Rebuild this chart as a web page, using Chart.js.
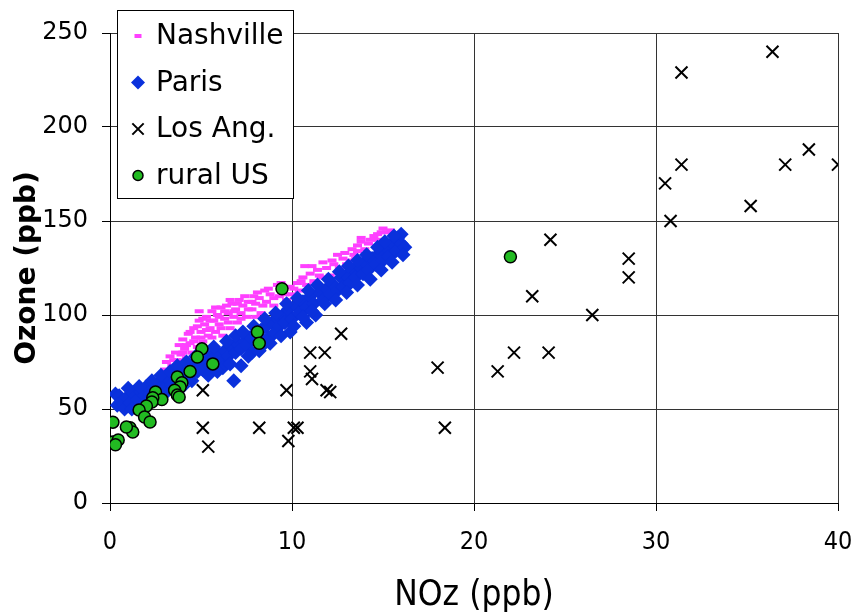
<!DOCTYPE html>
<html>
<head>
<meta charset="utf-8">
<script src="https://cdn.jsdelivr.net/npm/chart.js"></script>
<style>
  html, body { margin: 0; padding: 0; background: #fff; }
  canvas { display: block; }
</style>
</head>
<body>
<canvas id="ozoneChart" width="857" height="613"></canvas>
<script>
// NOz (ppb), ozone (ppb) pairs for each site
const nashville = [
  [3.0,71],[3.1,75],[3.3,78],[3.4,73],[3.6,80],[3.7,76],[3.8,84],[3.9,79],[4.0,87],[4.1,82],
  [4.2,77],[4.3,90],[4.4,85],[4.5,80],[4.6,93],[4.7,88],[4.8,83],[4.9,97],[4.9,102],[5.0,91],
  [5.1,86],[5.2,95],[5.3,99],[5.4,89],[5.5,93],[5.6,102],[5.7,97],[5.8,91],[5.9,100],[6.0,95],
  [6.1,104],[6.2,89],[6.3,98],[6.4,105],[6.5,101],[6.6,93],[6.7,106],[6.8,99],[6.9,103],[7.0,96],
  [7.1,108],[7.2,101],[7.3,105],[7.5,99],[7.6,107],[7.8,103],[7.9,110],[8.0,106],[8.2,109],[8.3,101],
  [8.5,113],[8.6,107],[8.8,111],[9.0,105],[9.2,116],[9.3,110],[9.5,113],[9.7,108],[9.9,115],[10.0,111],
  [10.3,117],[10.4,113],[10.6,120],[10.7,126],[10.8,116],[11.0,122],[11.2,118],[11.4,124],[11.6,120],[11.7,128],
  [11.9,125],[12.1,121],[12.3,127],[12.5,132],[12.6,125],[12.8,130],[13.0,127],[13.2,129],[13.4,132],[13.5,130],
  [13.6,137],[13.6,134],[13.8,139],[13.8,141],[14.0,135],[14.2,138],[14.5,142],[14.7,140],[14.7,143],[15.0,146],
  [15.2,144],[15.4,145],
  [3.5,76],[3.8,74],[4.0,80],[4.2,84],[4.4,91],[4.6,86],[4.8,94],[5.0,88],[5.1,98],[5.3,92],
  [5.5,97],[5.6,88],[5.8,104],[6.0,99],[6.1,93],[6.3,102],[6.5,96],[6.6,108],[6.8,102],[7.0,106],
  [7.2,98],[7.4,110],[7.6,103],[7.8,107],[8.0,99],[8.1,112],[8.4,105],[8.7,114],[9.0,109],[9.4,117],
  [9.6,111],[10.1,114],[10.5,118],[11.1,126],[11.5,121],[12.2,129],[12.9,133],[13.3,135],[14.3,140],[14.9,144]
];
const paris = [
  [0.3,58],[0.4,52],[0.5,57],[0.6,54],[0.8,50],[0.9,56],[1.1,53],[1.3,58],[1.5,55],[1.7,59],
  [1.9,57],[2.0,62],[2.2,58],[2.4,61],[2.6,63],[2.7,59],[2.9,64],[3.1,62],[3.2,66],[3.4,63],
  [3.6,67],[3.8,65],[3.9,70],[4.1,67],[4.3,71],[4.4,68],[4.6,72],[4.8,70],[5.0,74],[5.1,71],
  [5.3,76],[5.5,73],[5.6,78],[5.8,75],[6.0,79],[6.1,76],[6.2,72],[6.3,81],[6.5,78],[6.7,83],
  [6.8,65],[6.9,80],[7.0,85],[7.2,73],[7.2,82],[7.4,86],[7.5,84],[7.7,88],[7.8,80],[8.0,90],
  [8.1,86],[8.3,92],[8.4,84],[8.6,94],[8.7,88],[8.9,96],[9.0,90],[9.2,98],[9.3,94],[9.5,100],
  [9.6,96],[9.8,103],[9.9,91],[10.0,98],[10.2,105],[10.4,101],[10.6,107],[10.8,96],[10.8,104],[11.0,110],
  [11.2,106],[11.3,100],[11.5,112],[11.7,108],[11.9,114],[12.1,111],[12.3,116],[12.5,113],[12.7,120],[12.8,115],
  [13.0,121],[13.2,117],[13.4,124],[13.5,120],[13.7,126],[13.9,122],[14.0,128],[14.2,124],[14.4,130],[14.6,127],
  [14.8,133],[15.0,129],[15.2,136],[15.3,131],[15.5,138],[15.7,134],[15.8,141],[16.0,138],[16.0,143],[16.2,136],
  [1.0,61],[1.6,62],[2.3,65],[2.8,68],[3.3,70],[3.7,73],[4.2,75],[4.7,78],[5.2,80],[5.7,83],
  [6.4,86],[6.9,89],[7.3,91],[7.9,94],[8.5,98],[9.1,101],[9.7,106],[10.3,109],[10.9,113],[11.4,116],
  [12.0,119],[12.6,123],[13.1,126],[13.6,129],[14.1,132],[14.7,136],[15.1,139],[15.6,142],
  [1.2,50],[1.8,52],[2.5,55],[3.0,58],[3.5,60],[4.0,62],[4.5,65],[5.4,68],[5.9,70],[6.6,74],
  [7.6,78],[8.2,81],[8.8,85],[9.4,89],[10.1,94],[10.6,99],[11.1,102],[11.8,106],[12.4,108],[13.0,112],
  [13.6,116],[14.3,119],[14.9,124],[15.5,128],[16.1,132]
];
const losAngeles = [
  [5.1,60],[5.1,40],[5.4,30],[8.2,40],[9.7,60],[10.1,40],[10.3,40],[9.8,33],[11.0,70],[11.1,66],
  [11.0,80],[11.8,80],[11.9,60],[12.1,59],[12.7,90],[18.0,72],[18.4,40],[21.3,70],[22.2,80],[24.1,80],
  [23.2,110],[24.2,140],[26.5,100],[28.5,130],[28.5,120],[30.5,170],[30.8,150],[31.4,180],[31.4,229],[35.2,158],
  [36.4,240],[37.1,180],[38.4,188],[40.0,180]
];
const ruralUS = [
  [22.0,131],[9.45,114],[8.1,91],[8.2,85],[5.05,82],[4.8,77.7],[5.65,74],[4.4,70],[3.7,67],[3.95,64],
  [3.85,61.7],[3.55,60],[3.7,57.4],[3.8,56.4],[2.5,59],[2.85,55],[2.35,56],[2.3,53.7],[2.0,51.6],[1.6,49.5],
  [1.9,45.7],[2.2,43.1],[0.16,43],[1.1,40],[1.25,37.8],[0.9,40.4],[0.16,32.4],[0.45,33.5],[0.3,31]
];
const xTickValues = [0, 10, 20, 30, 40];
const yTickValues = [0, 50, 100, 150, 200, 250];

function toPoints(list) {
  return list.map(p => ({ x: p[0], y: p[1] }));
}

// legend drawn inside the plot, top-left, white box with black frame
const legendBox = {
  id: 'legendBox',
  afterDraw(chart) {
    const ctx = chart.ctx;
    const rows = [
      { ds: chart.data.datasets[0], radius: 3.5, borderWidth: 4 },
      { ds: chart.data.datasets[1], radius: 7, borderWidth: 0 },
      { ds: chart.data.datasets[2], radius: 8, borderWidth: 2 },
      { ds: chart.data.datasets[3], radius: 5, borderWidth: 1.5 }
    ];
    ctx.save();
    ctx.fillStyle = '#fff';
    ctx.fillRect(117, 10, 176, 188);
    ctx.strokeStyle = '#000';
    ctx.lineWidth = 1;
    ctx.strokeRect(117.5, 10.5, 176, 188);
    ctx.font = '28px "DejaVu Sans"';
    ctx.textBaseline = 'middle';
    rows.forEach((r, i) => {
      const y = 36 + i * 46.5;
      ctx.fillStyle = r.ds.backgroundColor;
      ctx.strokeStyle = r.ds.borderColor;
      ctx.lineWidth = r.borderWidth;
      Chart.helpers.drawPoint(ctx, {
        pointStyle: r.ds.pointStyle, radius: r.radius, borderWidth: r.borderWidth, rotation: 0
      }, 138, y);
      ctx.fillStyle = '#000';
      ctx.fillText(r.ds.label, 156, y + 1);
    });
    ctx.restore();
  }
};

const ctx = document.getElementById('ozoneChart').getContext('2d');
const ozoneChart = new Chart(ctx, {
  type: 'scatter',
  data: {
    datasets: [
      {
        label: 'Nashville',
        data: toPoints(nashville),
        pointStyle: 'line',
        pointRadius: 4.5,
        borderWidth: 4,
        borderColor: '#ff40ff',
        backgroundColor: '#ff40ff',
        order: 4
      },
      {
        label: 'Paris',
        data: toPoints(paris),
        pointStyle: 'rectRot',
        pointRadius: 7.5,
        borderWidth: 0,
        borderColor: '#0a31dc',
        backgroundColor: '#0a31dc',
        order: 3
      },
      {
        label: 'Los Ang.',
        data: toPoints(losAngeles),
        pointStyle: 'crossRot',
        pointRadius: 8.5,
        borderWidth: 2,
        borderColor: '#000',
        backgroundColor: '#000',
        order: 2
      },
      {
        label: 'rural US',
        data: toPoints(ruralUS),
        pointStyle: 'circle',
        pointRadius: 6,
        borderWidth: 1.5,
        borderColor: '#000',
        backgroundColor: '#22bb22',
        order: 1
      }
    ]
  },
  options: {
    responsive: false,
    animation: false,
    devicePixelRatio: 1,
    layout: { padding: { left: 0, right: 19, top: 33, bottom: 0 } },
    plugins: {
      legend: { display: false },
      tooltip: { enabled: false }
    },
    scales: {
      x: {
        type: 'linear',
        min: 0,
        max: 40,
        afterBuildTicks: scale => { scale.ticks = xTickValues.map(v => ({ value: v })); },
        afterFit: scale => {
          scale.height = 110;
          scale.paddingLeft = 0;
          scale.paddingRight = 0;
        },
        grid: { color: '#333', lineWidth: 1, tickLength: 8, tickColor: '#000' },
        border: { color: '#000', width: 1 },
        ticks: {
          color: '#000',
          padding: 16,
          maxRotation: 0,
          font: { family: '"Liberation Sans Narrow", "DejaVu Sans Condensed", sans-serif', size: 25 }
        },
        title: {
          display: true,
          text: 'NOz (ppb)',
          color: '#000',
          padding: 0,
          font: { family: '"Liberation Sans Narrow", "DejaVu Sans Condensed", sans-serif', size: 35, lineHeight: 1 }
        }
      },
      y: {
        type: 'linear',
        min: 0,
        max: 250,
        afterBuildTicks: scale => { scale.ticks = yTickValues.map(v => ({ value: v })); },
        afterFit: scale => { scale.width = 110; },
        grid: { color: '#333', lineWidth: 1, tickLength: 8, tickColor: '#000' },
        border: { color: '#000', width: 1 },
        ticks: {
          color: '#000',
          padding: 14,
          font: { family: '"DejaVu Sans", sans-serif', size: 24 }
        },
        title: {
          display: true,
          text: 'Ozone (ppb)',
          color: '#000',
          padding: { top: 14, bottom: 0 },
          font: { family: '"DejaVu Sans", sans-serif', size: 28, weight: 'bold', lineHeight: 1 }
        }
      }
    }
  },
  plugins: [legendBox]
});
</script>
</body>
</html>
